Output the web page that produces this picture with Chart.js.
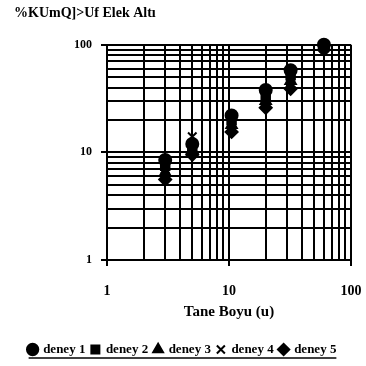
<!DOCTYPE html>
<html><head><meta charset="utf-8">
<script src="https://cdn.jsdelivr.net/npm/chart.js@4/dist/chart.umd.min.js"></script>
<style>html,body{margin:0;padding:0;background:#fff;}#wrap{width:366px;height:366px;}</style>
</head><body><div id="wrap"><canvas id="c" width="366" height="366"></canvas></div>
<script>
// Data (log-log sieve analysis)
const sieveSizes = [3, 5, 10.5, 20, 32, 60];
const deney1 = [8.5, 12, 22, 38, 58, 100];
const deney2 = [7.5, 11, 20, 34, 52, 98];
const deney3 = [6.5, 10.5, 18, 30, 46, 96];
const deney4 = [6, 14, 17, 28, 42, 93];
const deney5 = [5.6, 9.5, 15.5, 26, 39, 90];
const seriesLabels = ['deney 1', 'deney 2', 'deney 3', 'deney 4', 'deney 5'];
const seriesValues = [deney1, deney2, deney3, deney4, deney5];
const pointStyles = ['circle', 'rect', 'triangle', 'crossRot', 'rectRot'];
const gridValues = [1,2,3,4,5,6,7,8,9,10,20,30,40,50,60,70,80,90,100];
const tickLabelValues = [1, 10, 100];
const yTitle = '%KUmQ]>Uf Elek Altı';
const xTitle = 'Tane Boyu (u)';

const FONT = "'Liberation Serif', 'Times New Roman', serif";
const isMajor = v => tickLabelValues.includes(v);

const datasets = seriesLabels.map((lab, i) => ({
  label: lab,
  data: sieveSizes.map((x, j) => ({x: x, y: seriesValues[i][j]})),
  pointStyle: pointStyles[i],
  backgroundColor: '#000',
  borderColor: '#000',
  borderWidth: 2,
  pointRadius: 6,
  showLine: false,
  clip: false
}));

function gridScale(extra) {
  return Object.assign({
    type: 'logarithmic',
    min: 1, max: 100,
    afterBuildTicks: s => { s.ticks = gridValues.map(v => ({value: v, major: isMajor(v)})); },
    grid: {
      color: '#000', lineWidth: 2, tickLength: 6,
      tickColor: ctx => (ctx.tick && isMajor(ctx.tick.value)) ? '#000' : 'rgba(0,0,0,0)'
    },
    border: {display: true, color: '#000', width: 2}
  }, extra);
}

const underlinePlugin = {
  id: 'legendUnderline',
  afterDraw(chart) {
    const lg = chart.legend;
    if (!lg || !lg.legendHitBoxes || !lg.legendHitBoxes.length) return;
    const hb = lg.legendHitBoxes;
    const first = hb[0], last = hb[hb.length - 1];
    const y = first.top + first.height + 2;
    const ctx = chart.ctx;
    ctx.save();
    ctx.strokeStyle = '#000';
    ctx.lineWidth = 1.5;
    ctx.beginPath();
    ctx.moveTo(first.left, y);
    ctx.lineTo(last.left + last.width, y);
    ctx.stroke();
    ctx.restore();
  }
};

new Chart(document.getElementById('c'), {
  type: 'scatter',
  data: {datasets},
  options: {
    responsive: false,
    animation: false,
    layout: {padding: {left: 14, right: 15, top: 5, bottom: 0}},
    plugins: {
      title: {
        display: true, text: yTitle, align: 'start', color: '#000',
        font: {family: FONT, size: 14, weight: 'bold'},
        padding: {top: 0, bottom: 23}
      },
      legend: {
        position: 'bottom',
        labels: {
          usePointStyle: true, boxWidth: 8, boxHeight: 8, padding: 6,
          color: '#000', font: {family: FONT, size: 13, weight: 'bold'}
        }
      },
      tooltip: {enabled: false}
    },
    scales: {
      x: gridScale({
        position: 'bottom',
        afterFit: s => { s.height = 77; s.paddingLeft = 0; s.paddingRight = 0; },
        ticks: {
          autoSkip: false, maxRotation: 0, padding: 17, color: '#000',
          font: {family: FONT, size: 14, weight: 'bold'},
          callback: v => isMajor(v) ? String(v) : ''
        },
        title: {
          display: true, text: xTitle, color: '#000',
          font: {family: FONT, size: 15, weight: 'bold'},
          padding: {top: 0, bottom: 16}
        }
      }),
      y: gridScale({
        position: 'left',
        afterFit: s => { s.width = 93; s.paddingTop = 0; s.paddingBottom = 0; },
        ticks: {
          autoSkip: false, padding: 9, color: '#000',
          font: {family: FONT, size: 12, weight: 'bold'},
          callback: v => isMajor(v) ? String(v) : ''
        }
      })
    }
  },
  plugins: [underlinePlugin]
});
</script>
</body></html>
